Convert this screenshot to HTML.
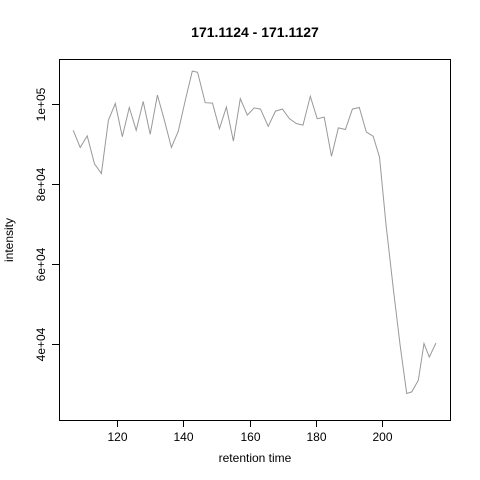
<!DOCTYPE html>
<html><head><meta charset="utf-8"><style>
html,body{margin:0;padding:0;background:#fff;}
svg{display:block;font-family:"Liberation Sans",Arial,sans-serif;}
</style></head><body>
<svg id="chart" width="480" height="480" viewBox="0 0 480 480" xmlns="http://www.w3.org/2000/svg">
<rect width="480" height="480" fill="#fff"/>
<text x="255" y="37" text-anchor="middle" font-size="14" font-weight="bold">171.1124 - 171.1127</text>
<text x="255" y="462" text-anchor="middle" font-size="12">retention time</text>
<text transform="translate(13,240) rotate(-90)" text-anchor="middle" font-size="12">intensity</text>
<rect x="59.5" y="59.5" width="391" height="361" fill="none" stroke="#000" stroke-width="1"/>
<g id="xaxis"></g>
<g id="yaxis"></g>
<polyline id="series" fill="none" stroke="#999" stroke-width="1"/>
</svg>
<script>
const xTicks=[120,140,160,180,200];
const yTicks=[40000,60000,80000,100000];
const yTickLabels=["4e+04","6e+04","8e+04","1e+05"];
const rtValues=[106.8,108.9,111.0,113.2,115.3,117.4,119.5,121.6,123.7,125.8,127.9,130.0,132.2,134.3,136.4,138.5,140.6,142.7,144.3,146.6,148.8,150.9,153.0,155.1,157.2,159.3,161.4,163.3,165.6,167.8,169.9,172.0,174.1,176.1,178.3,180.4,182.5,184.7,186.8,188.9,191.0,193.1,195.2,197.3,199.2,201.2,203.4,205.4,207.4,208.9,210.9,212.6,214.2,216.2];
const intensityValues=[93500,89200,92100,85100,82700,96000,100200,91900,99200,93500,100700,92500,102300,96000,89200,93300,101000,108300,108000,100400,100300,93900,99300,90800,101400,97300,99100,98800,94500,98300,98800,96400,95200,94800,102000,96400,96800,87000,94100,93700,98800,99200,93100,92000,86800,69500,53500,39800,27700,28100,31000,40200,36800,40300];
const NS="http://www.w3.org/2000/svg";
function xs(v){return 117+(v-120)*3.315;}
function ys(v){return 104.3-(v-100000)/250;}
const xa=document.getElementById('xaxis'),ya=document.getElementById('yaxis');
xTicks.forEach(t=>{
  const l=document.createElementNS(NS,'line');
  
  
  const x=Math.round(xs(t))+0.5;
  l.setAttribute('x1',x);l.setAttribute('x2',x);l.setAttribute('y1',420);l.setAttribute('y2',427);l.setAttribute('stroke','#000');
  xa.appendChild(l);
  const tx=document.createElementNS(NS,'text');
  
  
  tx.setAttribute('x',x);tx.setAttribute('y',441);tx.setAttribute('text-anchor','middle');tx.setAttribute('font-size','12');
  tx.textContent=t;xa.appendChild(tx);
});
yTicks.forEach((t,i)=>{
  const l=document.createElementNS(NS,'line');
  
  
  const y=Math.round(ys(t))+0.5;
  l.setAttribute('x1',52);l.setAttribute('x2',59.5);l.setAttribute('y1',y);l.setAttribute('y2',y);l.setAttribute('stroke','#000');
  ya.appendChild(l);
  const tx=document.createElementNS(NS,'text');
  
  
  tx.setAttribute('transform','translate(45,'+y+') rotate(-90)');tx.setAttribute('text-anchor','middle');tx.setAttribute('font-size','12');
  tx.textContent=yTickLabels[i];ya.appendChild(tx);
});
document.getElementById('series').setAttribute('points',rtValues.map((v,i)=>xs(v).toFixed(1)+','+ys(intensityValues[i]).toFixed(1)).join(' '));
</script>
</body></html>
